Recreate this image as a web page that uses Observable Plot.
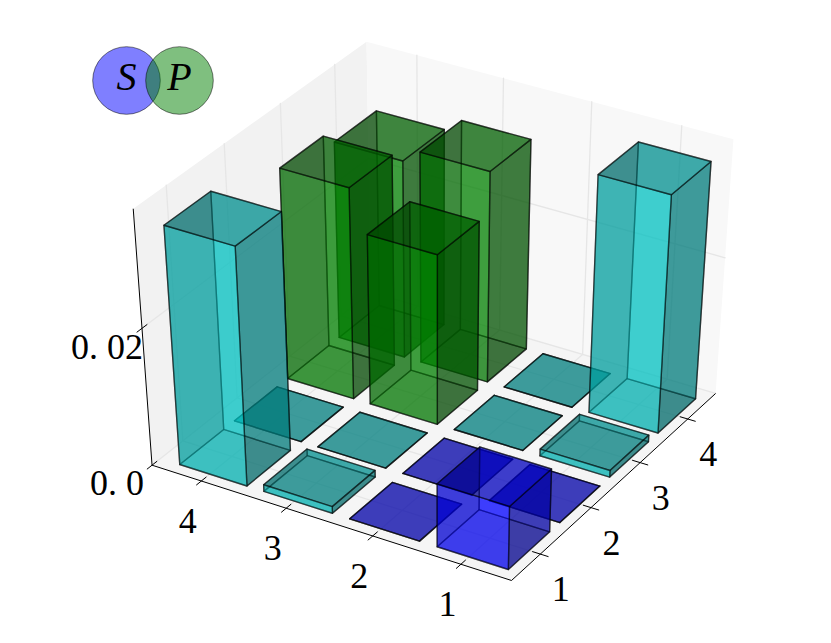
<!DOCTYPE html><html><head><meta charset="utf-8"><style>html,body{margin:0;padding:0;background:#fff}svg{display:block}</style></head><body><script src="https://cdn.jsdelivr.net/npm/d3@7"></script><script src="https://cdn.jsdelivr.net/npm/@observablehq/plot@0.6"></script><script>
// --- data ---
const xTickLabels = ["4","3","2","1"];
const yTickLabels = ["1","2","3","4"];
const zTicks = [0, 0.02];
const zTickLabels = ["0. 0","0. 02"];
// heights[row x index][column y index]
const heights = [
 [0.0341, 0,      0.0305, 0.0286],
 [0.0010, 0,      0.0247, 0.0305],
 [0,      0,      0,      0     ],
 [0.0093, 0,      0.0010, 0.0341]
];
const barColors = [
 ["c","c","g","g"],
 ["c","c","g","g"],
 ["b","b","c","c"],
 ["b","b","c","c"]
];
const baseRGB = {b:[0,0,255], c:[0,191,191], g:[0,128,0]};
const legendKeys = ["S","P"];
const legendFill = {S:"#0000ff",P:"#008000"};
// --- axis box ---
const xLim=[-0.23,3.925], yLim=[-0.154,4.0], zLim=[0,0.0364];
const barWidth=0.8, xTickPos=[0.36,1.36,2.36,3.36], yTickPos=[0.4,1.4,2.4,3.4];
const elev=39*Math.PI/180, azim=-59*Math.PI/180, dist=10;
const nv=[Math.cos(elev)*Math.cos(azim),Math.cos(elev)*Math.sin(azim),Math.sin(elev)];
const um=Math.hypot(nv[0],nv[1]), uv=[-nv[1]/um,nv[0]/um,0];
const vv=[nv[1]*uv[2]-nv[2]*uv[1],nv[2]*uv[0]-nv[0]*uv[2],nv[0]*uv[1]-nv[1]*uv[0]];
const dot=(a,b)=>a[0]*b[0]+a[1]*b[1]+a[2]*b[2];
const norm=([x,y,z])=>[(x-xLim[0])/(xLim[1]-xLim[0])-.5,(y-yLim[0])/(yLim[1]-yLim[0])-.5,(z-zLim[0])/(zLim[1]-zLim[0])-.5];
const depth=p=>dist-dot(nv,norm(p));
const proj=p=>{const q=norm(p),w=dist-dot(nv,q);return {px:dot(uv,q)/w,py:dot(vv,q)/w}};
// --- polygons ---
const polys=[];
let id=0;
const addPoly=(pts,o)=>{const k=id++;pts.forEach(p=>polys.push({...proj(p),k,...o}))};
const [xa,xb]=xLim,[ya,yb]=yLim,[za,zb]=zLim;
const panes=[];
const addPane=(pts,fill)=>{const k=panes.length?panes[panes.length-1].k+1:0;pts.forEach(p=>panes.push({...proj(p),k,fill}))};
addPane([[xa,ya,za],[xa,yb,za],[xa,yb,zb],[xa,ya,zb]],"#f2f2f2");
addPane([[xa,yb,za],[xb,yb,za],[xb,yb,zb],[xa,yb,zb]],"#f8f8f8");
addPane([[xa,ya,za],[xb,ya,za],[xb,yb,za],[xa,yb,za]],"#f5f5f5");
const grid=[];
const addLine=(arr,pts)=>{const k=arr.length?arr[arr.length-1].k+1:0;pts.forEach(p=>arr.push({...proj(p),k}))};
xTickPos.forEach(x=>addLine(grid,[[x,ya,za],[x,yb,za],[x,yb,zb]]));
yTickPos.forEach(y=>addLine(grid,[[xb,y,za],[xa,y,za],[xa,y,zb]]));
zTicks.forEach(z=>addLine(grid,[[xa,ya,z],[xa,yb,z],[xb,yb,z]]));
const axes=[];
addLine(axes,[[xa,ya,zb],[xa,ya,za],[xb,ya,za],[xb,yb,za]]);
const xr=xb-xa,yr=yb-ya;
xTickPos.forEach(x=>addLine(axes,[[x,ya-.022*yr,za],[x,ya+.022*yr,za]]));
yTickPos.forEach(y=>addLine(axes,[[xb-.022*xr,y,za],[xb+.022*xr,y,za]]));
zTicks.forEach(z=>addLine(axes,[[xa,ya-.022*yr,z],[xa,ya+.022*yr,z]]));
const faceFactor={x:.455,y:1,top:.61,bot:.745};
const bars=[];
heights.forEach((row,i)=>row.forEach((h,j)=>{
  const x0=i,x1=i+barWidth,y0=j,y1=j+barWidth;
  const rgb=baseRGB[barColors[i][j]];
  const col=f=>`rgb(${rgb.map(v=>Math.round(v*faceFactor[f])).join(",")})`;
  const faces=[
   [[[x0,y0,0],[x1,y0,0],[x1,y1,0],[x0,y1,0]],"bot"],
   [[[x0,y0,h],[x1,y0,h],[x1,y1,h],[x0,y1,h]],"top"],
   [[[x0,y0,0],[x1,y0,0],[x1,y0,h],[x0,y0,h]],"y"],
   [[[x0,y1,0],[x1,y1,0],[x1,y1,h],[x0,y1,h]],"y"],
   [[[x0,y0,0],[x0,y1,0],[x0,y1,h],[x0,y0,h]],"x"],
   [[[x1,y0,0],[x1,y1,0],[x1,y1,h],[x1,y0,h]],"x"]
  ].map(([pts,f])=>({pts,fill:col(f),d:d3.mean(pts,depth)}));
  faces.sort((a,b)=>b.d-a.d);
  bars.push({d:depth([x0+.4,y0+.4,h/2]),faces});
}));
bars.sort((a,b)=>b.d-a.d);
bars.forEach(b=>b.faces.forEach(f=>addPoly(f.pts,{fill:f.fill})));
const xLabelData=xTickLabels.map((t,i)=>({...proj([xTickPos[i],ya,za]),t}));
const yLabelData=yTickLabels.map((t,i)=>({...proj([xb,yTickPos[i],za]),t}));
const zLabelData=zTickLabels.map((t,i)=>({...proj([xa,ya,zTicks[i]]),t,i}));
const fs=36, font="Liberation Serif";
const fig=Plot.plot({
 width:831,height:643,margin:0,
 x:{axis:null,domain:[-436.94/4235.42,(831-436.94)/4235.42],range:[0,831]},
 y:{axis:null,domain:[304.74/3281.92,(304.74-643)/3281.92],range:[0,643]},
 color:{type:"identity"},
 marks:[
  Plot.line(panes,{x:"px",y:"py",z:"k",fill:"fill",stroke:null,curve:"linear-closed"}),
  Plot.line(grid,{x:"px",y:"py",z:"k",stroke:"#e6e6e6",strokeWidth:1.3}),
  Plot.line(axes,{x:"px",y:"py",z:"k",stroke:"#000",strokeWidth:1,strokeLinecap:"butt"}),
  Plot.line(polys,{x:"px",y:"py",z:"k",fill:"fill",fillOpacity:.5,stroke:"#000",strokeOpacity:.5,strokeWidth:1.4,curve:"linear-closed"}),
  Plot.text(xLabelData,{x:"px",y:"py",text:"t",dx:-13.5,dy:40,fontSize:fs,fontFamily:font,fill:"#000"}),
  Plot.text(yLabelData,{x:"px",y:"py",text:"t",dx:20.5,dy:35.5,fontSize:fs,fontFamily:font,fill:"#000"}),
  Plot.text(zLabelData.filter(d=>d.i==0),{x:"px",y:"py",text:"t",dx:-8,dy:18,textAnchor:"end",fontSize:fs,fontFamily:font,fill:"#000"}),
  Plot.text(zLabelData.filter(d=>d.i==1),{x:"px",y:"py",text:"t",dx:1,dy:19,textAnchor:"end",fontSize:fs,fontFamily:font,fill:"#000"}),
  ...legendKeys.map((k,i)=>Plot.dot([k],{frameAnchor:"top-left",dx:126+53*i,dy:80,r:33.8,fill:legendFill[k],fillOpacity:.5,stroke:"#000",strokeOpacity:.5,strokeWidth:1})),
  ...legendKeys.map((k,i)=>Plot.text([k],{frameAnchor:"top-left",lineAnchor:"middle",textAnchor:"middle",dx:126+53*i,dy:77,text:d=>d,fontSize:40,fontFamily:font,fontStyle:"italic",fill:"#000"}))
 ]
});
document.body.append(fig);
</script></body></html>
